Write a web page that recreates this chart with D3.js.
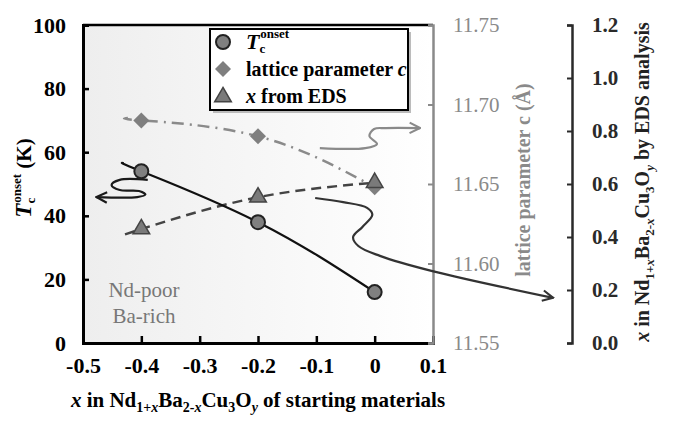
<!DOCTYPE html>
<html>
<head>
<meta charset="utf-8">
<script src="https://cdn.jsdelivr.net/npm/d3@7"></script>
</head>
<body style="margin:0">
<svg width="676" height="424"></svg>
<script>
// values
const xStart = [-0.4, -0.2, 0];
const tcOnset = [54, 38, 16];
const latticeC = [11.69, 11.68, 11.648];
const xEds = [0.43, 0.55, 0.605];

// trendline start (drawn a little to the left of the first point)
const tcTrendX = [-0.43, -0.4, -0.2, 0];
const tcTrendY = [56.5, 54, 38, 16];
const latTrendX = [-0.423, -0.4, -0.2, 0];
const latTrendY = [11.6915, 11.69, 11.68, 11.648];
const edsTrendX = [-0.428, -0.4, -0.2, 0];
const edsTrendY = [0.41, 0.43, 0.55, 0.605];

const xTicks = [-0.5, -0.4, -0.3, -0.2, -0.1, 0, 0.1];
const tcTicks = [0, 20, 40, 60, 80, 100];
const latTicks = [11.55, 11.60, 11.65, 11.70, 11.75];
const edsTicks = [0, 0.2, 0.4, 0.6, 0.8, 1.0, 1.2];

// annotation arrows, in (x, Tc) units
const arrowTc = [[-0.389, 51.3], [-0.437, 51.3], [-0.451, 49.7], [-0.437, 48.1], [-0.404, 47.8], [-0.393, 46.7], [-0.407, 45.9], [-0.477, 45.9]];
const arrowLat = [[-0.094, 61.3], [-0.016, 61.3], [0.004, 62.6], [-0.009, 65.1], [-0.001, 67.3], [0.018, 67.6], [0.078, 67.6]];
const arrowEds = [[-0.102, 45.6], [-0.054, 44.3], [-0.013, 42.5], [-0.004, 40.3], [-0.021, 36.5], [-0.037, 33.3], [-0.028, 30.5], [0.009, 27.4], [0.099, 22.6], [0.306, 14.2]];

const svg = d3.select("svg");
const L = 83, R = 433, T = 25, B = 343;
const serifAttr = "Liberation Serif";
const serifStyle = "'Liberation Serif', monospace";

const x = d3.scaleLinear().domain([-0.5, 0.1]).range([L, R]);
const yTc = d3.scaleLinear().domain([0, 100]).range([B, T]);
const yLat = d3.scaleLinear().domain([11.55, 11.75]).range([B, T]);
const yEds = d3.scaleLinear().domain([0, 1.2]).range([B, T]);

const defs = svg.append("defs");
const grad = defs.append("linearGradient").attr("id", "bg").attr("x1", "0").attr("x2", "1").attr("y1", "0").attr("y2", "0");
grad.append("stop").attr("offset", "0").attr("stop-color", "#eeeeee");
grad.append("stop").attr("offset", "1").attr("stop-color", "#ffffff");

function arrowMarker(id, col) {
  defs.append("marker")
    .attr("id", id)
    .attr("viewBox", "0 0 10 10")
    .attr("refX", 9).attr("refY", 5)
    .attr("markerWidth", 6).attr("markerHeight", 6)
    .attr("orient", "auto")
    .append("path")
    .attr("d", "M1,1 L9,5 L1,9")
    .attr("fill", "none")
    .attr("stroke", col)
    .attr("stroke-width", 1.6);
}
arrowMarker("aBlack", "#1a1a1a");
arrowMarker("aGray", "#8a8a8a");
arrowMarker("aDark", "#333");

// plot background
svg.append("rect")
  .attr("x", L).attr("y", T)
  .attr("width", R - L).attr("height", B - T)
  .attr("fill", "url(#bg)");

// Nd-poor Ba-rich
svg.append("text")
  .attr("x", 144).attr("y", 297)
  .attr("text-anchor", "middle")
  .attr("font-size", 21)
  .attr("fill", "#777")
  .text("Nd-poor");
svg.append("text")
  .attr("x", 144).attr("y", 323)
  .attr("text-anchor", "middle")
  .attr("font-size", 21)
  .attr("fill", "#777")
  .text("Ba-rich");

function styleAxis(g, col, lineW, tickW, bold, size) {
  g.attr("font-family", serifAttr);
  g.select(".domain").attr("stroke", col).attr("stroke-width", lineW);
  g.selectAll(".tick line").attr("stroke", col).attr("stroke-width", tickW);
  g.selectAll(".tick text")
    .attr("font-size", size).attr("font-weight", bold ? "bold" : "normal").attr("fill", col);
}

const fmt1 = d => d === 0 ? "0" : d3.format(".1f")(d).replace("−", "-");

// axes
const xAxis = svg.append("g")
  .attr("transform", `translate(0,${B})`)
  .call(d3.axisBottom(x).tickValues(xTicks).tickSize(-7).tickPadding(14).tickFormat(fmt1));
styleAxis(xAxis, "#000", 3, 2.5, true, 22);

const yAxisL = svg.append("g")
  .attr("transform", `translate(${L},0)`)
  .call(d3.axisLeft(yTc).tickValues(tcTicks).tickSize(-6).tickPadding(17));
styleAxis(yAxisL, "#000", 3, 2.5, true, 22);

// top border
svg.append("line")
  .attr("x1", L).attr("x2", R).attr("y1", T).attr("y2", T)
  .attr("stroke", "#000").attr("stroke-width", 2.5);

const yAxisLat = svg.append("g")
  .attr("transform", `translate(${R},0)`)
  .call(d3.axisRight(yLat).tickValues(latTicks).tickSize(-5).tickPadding(20)
    .tickFormat(d3.format(".2f")));
styleAxis(yAxisLat, "#8a8a8a", 2.5, 2, false, 21);

const yAxisEds = svg.append("g")
  .attr("transform", `translate(572,0)`)
  .call(d3.axisRight(yEds).tickValues(edsTicks).tickSize(-5).tickPadding(20)
    .tickFormat(d3.format(".1f")));
styleAxis(yAxisEds, "#2a2a2a", 2.5, 2, true, 21);

// lines
svg.append("path")
  .attr("d", d3.line().curve(d3.curveNatural).x(d => x(d[0])).y(d => yLat(d[1]))(d3.zip(latTrendX, latTrendY)))
  .attr("fill", "none").attr("stroke", "#8a8a8a").attr("stroke-width", 2.5)
  .attr("stroke-dasharray", "12,6,2,6");
svg.append("path")
  .attr("d", d3.line().curve(d3.curveMonotoneX).x(d => x(d[0])).y(d => yEds(d[1]))(d3.zip(edsTrendX, edsTrendY)))
  .attr("fill", "none").attr("stroke", "#444").attr("stroke-width", 2.5)
  .attr("stroke-dasharray", "10,6");
svg.append("path")
  .attr("d", d3.line().curve(d3.curveNatural).x(d => x(d[0])).y(d => yTc(d[1]))(d3.zip(tcTrendX, tcTrendY)))
  .attr("fill", "none").attr("stroke", "#111").attr("stroke-width", 2.2);

// arrows
function arrow(pts, col, marker) {
  svg.append("path")
    .attr("d", d3.line().curve(d3.curveCatmullRom).x(d => x(d[0])).y(d => yTc(d[1]))(pts))
    .attr("fill", "none").attr("stroke", col).attr("stroke-width", 2.2)
    .attr("marker-end", `url(#${marker})`);
}
arrow(arrowTc, "#1a1a1a", "aBlack");
arrow(arrowLat, "#8a8a8a", "aGray");
arrow(arrowEds, "#333", "aDark");

// markers
const diamond = d3.symbol().type(d3.symbolSquare).size(128);
const tri = d3.symbol().type(d3.symbolTriangle).size(120);

svg.append("g").selectAll("path")
  .data(d3.zip(xStart, latticeC))
  .join("path")
  .attr("transform", d => `translate(${x(d[0])},${yLat(d[1])}) rotate(45)`)
  .attr("d", diamond)
  .attr("fill", "#7f7f7f");

svg.append("g").selectAll("path")
  .data(d3.zip(xStart, xEds))
  .join("path")
  .attr("transform", d => `translate(${x(d[0])},${yEds(d[1])})`)
  .attr("d", tri)
  .attr("fill", "#7a7a7a").attr("stroke", "#444").attr("stroke-width", 1.5);

svg.append("g").selectAll("circle")
  .data(d3.zip(xStart, tcOnset))
  .join("circle")
  .attr("cx", d => x(d[0])).attr("cy", d => yTc(d[1]))
  .attr("r", 7)
  .attr("fill", "#808080").attr("stroke", "#222").attr("stroke-width", 2);

// legend
const lg = svg.append("g");
lg.append("rect").attr("x", 213).attr("y", 32).attr("width", 198).attr("height", 81).attr("fill", "#bbb");
lg.append("rect").attr("x", 210).attr("y", 29).attr("width", 198).attr("height", 81)
  .attr("fill", "#fff").attr("stroke", "#000").attr("stroke-width", 2);
lg.append("circle").attr("cx", 223).attr("cy", 42).attr("r", 7)
  .attr("fill", "#808080").attr("stroke", "#222").attr("stroke-width", 2);
lg.append("path").attr("transform", "translate(223,69) rotate(45)").attr("d", diamond).attr("fill", "#7f7f7f");
lg.append("path").attr("transform", "translate(223,97)").attr("d", tri)
  .attr("fill", "#7a7a7a").attr("stroke", "#444").attr("stroke-width", 1.5);

const t1 = lg.append("text").attr("x", 246).attr("y", 49).attr("font-size", 20).attr("font-weight", "bold");
t1.append("tspan").attr("font-style", "italic").attr("font-size", 22).text("T");
t1.append("tspan").attr("font-size", 13).attr("dy", 4).text("c");
t1.append("tspan").attr("font-size", 13).attr("dx", -5).attr("dy", -15).text("onset");
const t2 = lg.append("text").attr("x", 246).attr("y", 76).attr("font-size", 20).attr("font-weight", "bold");
t2.append("tspan").text("lattice parameter ");
t2.append("tspan").attr("font-style", "italic").text("c");
const t3 = lg.append("text").attr("x", 246).attr("y", 103).attr("font-size", 20).attr("font-weight", "bold");
t3.append("tspan").attr("font-style", "italic").text("x");
t3.append("tspan").text(" from EDS");

// formula title with sub/superscripts
function formula(sel, sub, tail) {
  sel.append("tspan").attr("font-style", "italic").text("x");
  sel.append("tspan").text(" in Nd");
  sel.append("tspan").attr("font-size", sub).attr("dy", 5).text("1+");
  sel.append("tspan").attr("font-size", sub).attr("font-style", "italic").text("x");
  sel.append("tspan").attr("dy", -5).text("Ba");
  sel.append("tspan").attr("font-size", sub).attr("dy", 5).text("2-");
  sel.append("tspan").attr("font-size", sub).attr("font-style", "italic").text("x");
  sel.append("tspan").attr("dy", -5).text("Cu");
  sel.append("tspan").attr("font-size", sub).attr("dy", 5).text("3");
  sel.append("tspan").attr("dy", -5).text("O");
  sel.append("tspan").attr("font-size", sub).attr("font-style", "italic").attr("dy", 5).text("y");
  sel.append("tspan").attr("dy", -5).text(tail);
}

const xt = svg.append("text")
  .attr("x", 258).attr("y", 407)
  .attr("text-anchor", "middle").attr("font-size", 21).attr("font-weight", "bold");
formula(xt, 14, " of starting materials");

const lt = svg.append("text")
  .attr("transform", "translate(31,178) rotate(-90)")
  .attr("text-anchor", "middle").attr("font-size", 21).attr("font-weight", "bold");
lt.append("tspan").attr("font-style", "italic").attr("font-size", 23).text("T");
lt.append("tspan").attr("font-size", 13).attr("dy", 4).text("c");
lt.append("tspan").attr("font-size", 13).attr("dx", -5).attr("dy", -14).text("onset");
lt.append("tspan").attr("dy", 10).text(" (K)");

svg.append("text")
  .attr("transform", "translate(530,180) rotate(-90)")
  .attr("text-anchor", "middle").attr("font-size", 20).attr("font-weight", "bold")
  .attr("fill", "#8a8a8a")
  .text("lattice parameter c (Å)");

const et = svg.append("text")
  .attr("transform", "translate(649,182) rotate(-90)")
  .attr("text-anchor", "middle").attr("font-size", 20).attr("font-weight", "bold")
  .attr("fill", "#222");
formula(et, 13, " by EDS analysis");

// serif font on every text, tspan and group
svg.selectAll("g, text, tspan")
  .attr("font-family", serifAttr)
  .style("font-family", serifStyle);
</script>
</body>
</html>
